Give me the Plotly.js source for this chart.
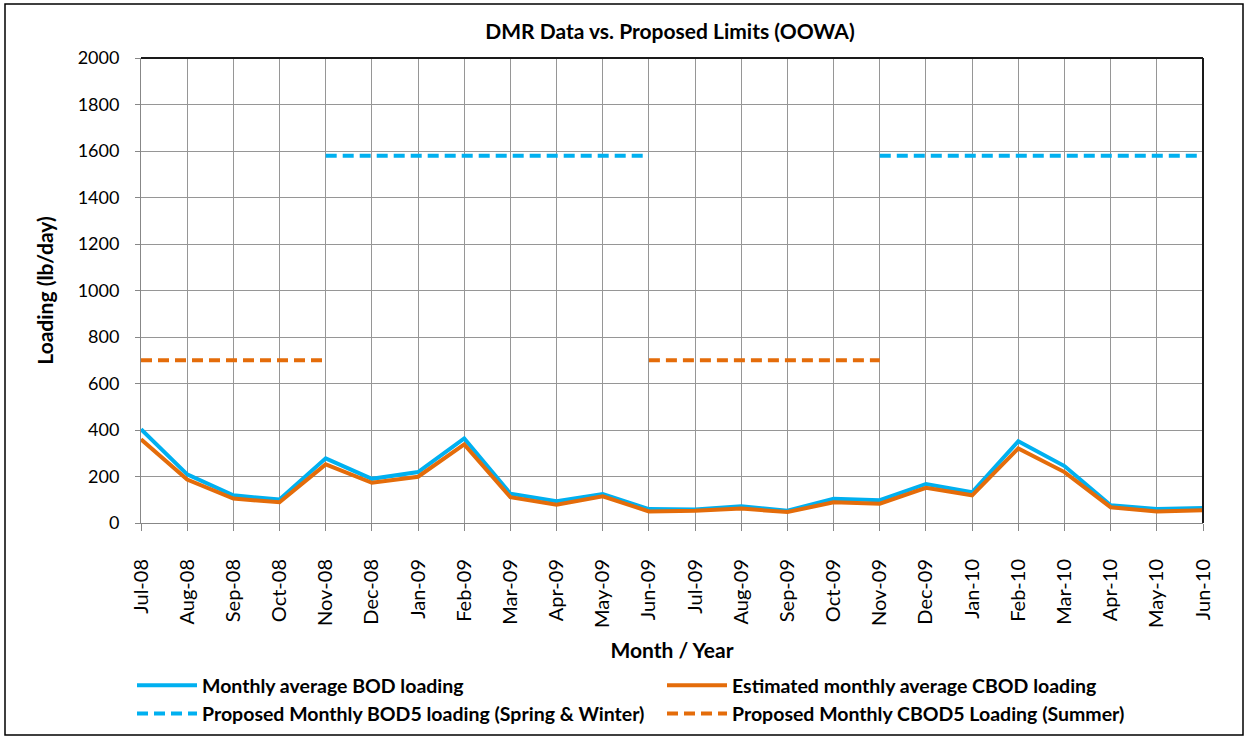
<!DOCTYPE html>
<html>
<head>
<meta charset="utf-8">
<script src="https://cdn.plot.ly/plotly-3.0.1.min.js"></script>
<style>
  html, body { margin: 0; padding: 0; background: #fff; }
  #chart { width: 1249px; height: 740px; }
</style>
</head>
<body>
<div id="chart"></div>
<script>
const months = ["Jul-08","Aug-08","Sep-08","Oct-08","Nov-08","Dec-08","Jan-09","Feb-09","Mar-09","Apr-09","May-09","Jun-09",
                "Jul-09","Aug-09","Sep-09","Oct-09","Nov-09","Dec-09","Jan-10","Feb-10","Mar-10","Apr-10","May-10","Jun-10"];
const bodLoading  = [403, 209, 119, 101, 278, 190, 219, 364, 126, 94, 125, 60, 58, 72, 53, 104, 98, 168, 132, 352, 245, 76, 60, 65];
const cbodLoading = [360, 187, 105, 89, 252, 173, 199, 338, 111, 79, 115, 50, 53, 62, 47, 89, 83, 151, 119, 321, 219, 68, 50, 55];
const bod5Limit   = [null, null, null, null, 1580, 1580, 1580, 1580, 1580, 1580, 1580, 1580,
                     null, null, null, null, 1580, 1580, 1580, 1580, 1580, 1580, 1580, 1580];
const cbod5Limit  = [700, 700, 700, 700, 700, null, null, null, null, null, null, 700,
                     700, 700, 700, 700, 700, null, null, null, null, null, null, null];
const yTicks = [0, 200, 400, 600, 800, 1000, 1200, 1400, 1600, 1800, 2000];

const BLUE = "#00B0F0", ORANGE = "#E46C0A";
const FONT = "Lato, 'Open Sans', 'Liberation Sans', sans-serif";

const traces = [
  { x: months, y: bodLoading, type: "scatter", mode: "lines", name: "<b>Monthly average BOD loading</b>",
    line: { color: BLUE, width: 4 } },
  { x: months, y: cbodLoading, type: "scatter", mode: "lines", name: "<b>Estimated monthly average CBOD loading</b>",
    line: { color: ORANGE, width: 4 } },
  { x: months, y: bod5Limit, type: "scatter", mode: "lines", name: "<b>Proposed Monthly BOD5 loading (Spring &amp; Winter)</b>",
    line: { color: BLUE, width: 4, dash: "11px,6px" }, connectgaps: false },
  { x: months, y: cbod5Limit, type: "scatter", mode: "lines", name: "<b>Proposed Monthly CBOD5 Loading (Summer)</b>",
    line: { color: ORANGE, width: 4, dash: "11px,6px" }, connectgaps: false }
];

const PW = 1062, PH = 465; // plot area size in px
const layout = {
  width: 1249, height: 740,
  margin: { l: 141, r: 46, t: 58, b: 217 },
  paper_bgcolor: "#fff", plot_bgcolor: "#fff",
  font: { family: FONT, color: "#000", size: 18 },
  title: { text: "<b>DMR Data vs. Proposed Limits (OOWA)</b>", font: { size: 21, family: FONT },
           x: 670/1249, xref: "container", xanchor: "center", y: 1 - 32/740, yanchor: "middle" },
  xaxis: {
    type: "category", categoryorder: "array", categoryarray: months,
    range: [0, months.length - 1], fixedrange: true, automargin: false,
    tickangle: -90, tickfont: { size: 20 },
    showgrid: true, gridcolor: "#969696", gridwidth: 1,
    showline: true, linecolor: "#878787", linewidth: 1,
    ticks: "outside", ticklen: 7, tickcolor: "#878787",
    ticklabelstandoff: 20,
    zeroline: false,
    title: { text: "<b>Month / Year</b>", font: { size: 21 }, standoff: 16 }
  },
  yaxis: {
    range: [0, 2000], tickvals: yTicks, fixedrange: true, automargin: false,
    tickfont: { size: 18 },
    showgrid: true, gridcolor: "#969696", gridwidth: 1,
    showline: true, linecolor: "#878787", linewidth: 1,
    ticks: "outside", ticklen: 5, tickcolor: "#878787",
    zeroline: false, ticklabelstandoff: 12,
    title: { text: "<b>Loading (lb/day)</b>", font: { size: 21 }, standoff: 18 }
  },
  shapes: [
    { type: "line", xref: "paper", yref: "paper", x0: 0, x1: 1, y0: 1, y1: 1, line: { color: "#1a1a1a", width: 2 } },
    { type: "line", xref: "paper", yref: "paper", x0: 1, x1: 1, y0: 0, y1: 1, line: { color: "#1a1a1a", width: 2 } },
    { type: "rect", xref: "paper", yref: "paper",
      x0: (5 - 141)/PW, x1: (1243 - 141)/PW, y0: (523 - 735)/PH, y1: (523 - 4)/PH,
      line: { color: "#000", width: 1.5 }, fillcolor: "rgba(0,0,0,0)" }
  ],
  showlegend: true,
  legend: {
    orientation: "h", xref: "container", yref: "container",
    x: 132/1249, xanchor: "left", y: 1 - 666/740, yanchor: "top",
    font: { size: 19.5, family: FONT }, entrywidth: 455, entrywidthmode: "pixels",
    itemwidth: 60, tracegroupgap: 0, traceorder: "normal",
    bgcolor: "rgba(0,0,0,0)"
  }
};

Plotly.newPlot("chart", traces, layout, { displayModeBar: false, staticPlot: true });
</script>
</body>
</html>
